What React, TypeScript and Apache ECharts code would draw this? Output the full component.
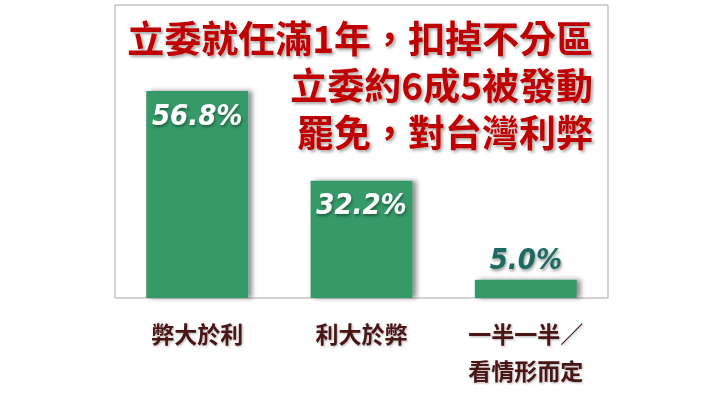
import React, { useEffect, useRef } from "react";
import * as echarts from "echarts";

const categories = ["弊大於利", "利大於弊", "一半一半／\n看情形而定"];
const values = [56.8, 32.2, 5.0];
const titleLines = ["立委就任滿1年，扣掉不分區", "立委約6成5被發動", "罷免，對台灣利弊"];

const NARROW = '"DejaVu Sans Condensed", "Liberation Sans", Arial, sans-serif';
const CJK = '"Noto Sans CJK TC", "Noto Sans CJK SC", sans-serif';

export default function App() {
  const ref = useRef<HTMLDivElement>(null);
  useEffect(() => {
    if (!ref.current) return;
    const chart = echarts.init(ref.current, null, { renderer: "svg" });
    const insideLabel = {
      position: "insideTop",
      distance: 9,
      color: "#ffffff",
    };
    const outsideLabel = {
      position: "top",
      distance: 6,
      color: "#1b6b62",
    };
    const data = values.map((v, i) => ({
      value: v,
      label: i < 2 ? insideLabel : outsideLabel,
    }));
    chart.setOption({
      animation: false,
      backgroundColor: "#ffffff",
      grid: {
        left: 115,
        right: 108,
        top: 5,
        bottom: 106,
        show: true,
        borderColor: "#a8a8a8",
        borderWidth: 1,
        backgroundColor: "transparent",
      },
      xAxis: {
        type: "category",
        data: categories,
        axisLine: { show: false },
        axisTick: { show: false },
        axisLabel: {
          interval: 0,
          margin: 16,
          fontFamily: CJK,
          fontSize: 23,
          fontWeight: "bold",
          lineHeight: 37,
          color: "#4a1414",
          textShadowColor: "rgba(0,0,0,0.3)",
          textShadowBlur: 2,
          textShadowOffsetX: 1,
          textShadowOffsetY: 1,
        },
      },
      yAxis: {
        type: "value",
        min: 0,
        max: 80.4,
        show: false,
        splitLine: { show: false },
      },
      series: [
        {
          type: "bar",
          data,
          barCategoryGap: "38%",
          itemStyle: {
            color: "#359a68",
            shadowColor: "rgba(0,0,0,0.45)",
            shadowBlur: 5,
            shadowOffsetX: 4,
            shadowOffsetY: 0,
          },
          label: {
            show: true,
            fontFamily: NARROW,
            fontStyle: "italic",
            fontWeight: "bold",
            fontSize: 29,
            formatter: (p: any) => Number(p.value).toFixed(1) + "%",
            textShadowColor: "rgba(0,0,0,0.4)",
            textShadowBlur: 3,
            textShadowOffsetX: 1,
            textShadowOffsetY: 2,
          },
        },
      ],
      graphic: [
        {
          type: "text",
          x: 593,
          y: 13,
          z: 100,
          style: {
            text: titleLines.join("\n"),
            align: "right",
            verticalAlign: "top",
            fontFamily: CJK,
            fontWeight: "bold",
            fontSize: 37,
            lineHeight: 47,
            fill: "#c00000",
            textShadowColor: "rgba(0,0,0,0.35)",
            textShadowBlur: 3,
            textShadowOffsetX: 2,
            textShadowOffsetY: 2,
          },
        },
      ],
    });
    return () => chart.dispose();
  }, []);
  return (
    <div
      ref={ref}
      style={{ position: "absolute", left: 0, top: 0, width: 716, height: 404 }}
    />
  );
}
